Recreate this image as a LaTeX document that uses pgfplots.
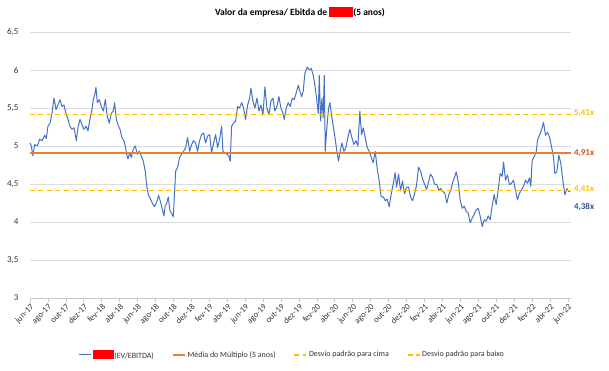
\documentclass[border=0pt]{standalone}
\usepackage{pgfplots}
\pgfplotsset{compat=1.18}
\usepackage{fontspec}
\setmainfont{Carlito}
\definecolor{xblue}{HTML}{4472C4}
\definecolor{xorange}{HTML}{ED7D31}
\definecolor{xgold}{HTML}{FFC000}
\definecolor{xdorange}{HTML}{C55A11}
\definecolor{xnavy}{HTML}{2F5597}
\begin{document}
\begin{tikzpicture}[x=1pt,y=1pt]
\useasboundingbox (0,0) rectangle (609,370);
\node[font=\fontsize{9.5}{10}\selectfont\bfseries, anchor=center] at (300,358) {Valor da empresa/ Ebitda de \textcolor{red}{\rule[-1.5pt]{24pt}{10pt}}(5 anos)};
\begin{axis}[
  at={(30pt,72pt)}, anchor=south west, scale only axis,
  width=540.5pt, height=266pt,
  xmin=0, xmax=60.3, ymin=3, ymax=6.5,
  clip=false,
  axis x line*=bottom, axis y line*=left,
  y axis line style={draw=none},
  x axis line style={draw=black!22, line width=0.8pt},
  ytick={3,3.5,4,4.5,5,5.5,6,6.5},
  ytick style={draw=none},
  ymajorgrids, major grid style={draw=black!14, line width=0.8pt},
  xtick={0,2,...,60},
  xticklabels={jun-17,ago-17,out-17,dez-17,fev-18,abr-18,jun-18,ago-18,out-18,dez-18,fev-19,abr-19,jun-19,ago-19,out-19,dez-19,fev-20,abr-20,jun-20,ago-20,out-20,dez-20,fev-21,abr-21,jun-21,ago-21,out-21,dez-21,fev-22,abr-22,jun-22},
  tick align=outside, major tick length=4pt,
  xtick style={draw=black!22, line width=0.6pt},
  xticklabel style={rotate=45, anchor=north east, inner sep=1pt, font=\fontsize{8.5}{9}\selectfont, text=black!80},
  yticklabel style={font=\fontsize{9}{9}\selectfont, text=black!80, xshift=-4pt},
  /pgf/number format/.cd, use comma, assume math mode=true, /pgfplots/.cd,
  legend columns=4,
  legend style={at={(0.485,-0.214)}, anchor=center, draw=none, fill=none, font=\fontsize{8}{9}\selectfont, text=black!80,
    /tikz/every even column/.append style={column sep=16pt}},
  legend image code/.code={\draw[#1] (0pt,0pt) -- (12pt,0pt);},
]
\addplot[xblue, line width=1.0pt, line join=round] coordinates {
(0,5.04) (0.15,5.0) (0.33,4.87) (0.52,5.02) (0.82,5.0) (1.08,5.09) (1.34,5.07) (1.64,5.14) (1.82,5.10) (2.0,5.26)
(2.23,5.30) (2.45,5.43) (2.68,5.63) (2.9,5.48) (3.12,5.54) (3.35,5.61) (3.57,5.52) (3.79,5.54) (4.01,5.43) (4.24,5.35)
(4.46,5.26) (4.68,5.22) (4.91,5.24) (5.17,5.07) (5.35,5.24) (5.58,5.35) (5.8,5.28) (6.02,5.22) (6.25,5.26) (6.47,5.2)
(6.69,5.35) (6.91,5.48) (7.06,5.61) (7.21,5.67) (7.36,5.77) (7.51,5.57) (7.73,5.61) (7.96,5.52) (8.18,5.46) (8.4,5.61)
(8.62,5.39) (8.85,5.30) (9.07,5.43) (9.29,5.46) (9.44,5.57) (9.63,5.35) (9.81,5.28) (10.04,5.22) (10.26,5.11) (10.48,5.07)
(10.63,5.0) (10.78,4.89) (10.93,4.83) (11.12,4.91) (11.3,4.85) (11.52,4.96) (11.75,5.0) (11.97,4.89) (12.19,4.93) (12.42,4.87)
(12.64,4.80) (12.86,4.67) (13.01,4.48) (13.23,4.35) (13.46,4.30) (13.68,4.24) (13.9,4.20) (14.13,4.26) (14.35,4.35) (14.57,4.26)
(14.8,4.15) (14.94,4.08) (15.09,4.22) (15.24,4.24) (15.43,4.33) (15.61,4.15) (15.8,4.11) (15.99,4.07) (16.1,4.33) (16.25,4.67)
(16.47,4.72) (16.69,4.85) (16.91,4.89) (17.14,4.93) (17.36,4.98) (17.58,5.11) (17.81,4.93) (18.03,5.02) (18.25,5.07) (18.48,5.04)
(18.7,4.93) (18.92,5.07) (19.14,5.15) (19.37,5.17) (19.59,5.04) (19.81,5.13) (20.04,5.15) (20.26,4.91) (20.48,5.04) (20.71,5.15)
(20.93,4.98) (21.15,5.09) (21.38,5.26) (21.52,4.93) (21.75,4.91) (21.97,4.89) (22.19,4.87) (22.34,4.80) (22.49,5.26) (22.71,5.30)
(22.94,5.33) (23.16,5.52) (23.38,5.5) (23.61,5.57) (23.83,5.5) (24.05,5.35) (24.28,5.54) (24.5,5.63) (24.65,5.76) (24.87,5.59)
(25.09,5.5) (25.32,5.63) (25.54,5.46) (25.76,5.54) (25.99,5.41) (26.21,5.78) (26.43,5.5) (26.65,5.41) (26.88,5.59) (27.1,5.63)
(27.32,5.46) (27.55,5.52) (27.77,5.65) (27.99,5.5) (28.22,5.43) (28.36,5.35) (28.59,5.5) (28.81,5.57) (29.03,5.52) (29.26,5.63)
(29.48,5.61) (29.7,5.7) (29.93,5.80) (30.11,5.72) (30.3,5.65) (30.48,5.72) (30.67,5.96) (30.93,6.04) (31.15,6.0) (31.38,6.02)
(31.6,5.93) (31.78,5.80) (31.97,5.63) (32.16,5.43) (32.27,5.93) (32.42,5.33) (32.57,5.63) (32.71,5.37) (32.83,5.93) (32.94,4.93)
(33.09,5.2) (33.31,5.5) (33.46,5.57) (33.68,5.37) (33.83,5.26) (33.98,5.15) (34.13,5.02) (34.28,4.89) (34.42,4.80) (34.57,4.91)
(34.8,5.04) (35.02,4.93) (35.24,4.98) (35.46,5.11) (35.69,5.22) (35.91,5.11) (36.13,5.02) (36.36,5.07) (36.58,5.0) (36.8,5.46)
(36.99,5.15) (37.17,5.24) (37.4,5.11) (37.62,4.98) (37.84,4.93) (38.07,4.85) (38.29,4.78) (38.51,4.93) (38.74,4.70) (38.96,4.54)
(39.18,4.33) (39.41,4.33) (39.63,4.28) (39.85,4.30) (40.07,4.20) (40.3,4.37) (40.52,4.5) (40.74,4.65) (40.89,4.46) (41.12,4.63)
(41.34,4.41) (41.56,4.54) (41.78,4.37) (42.01,4.46) (42.23,4.46) (42.45,4.33) (42.68,4.28) (42.9,4.37) (43.12,4.48) (43.35,4.72)
(43.57,4.67) (43.79,4.57) (44.01,4.5) (44.24,4.43) (44.46,4.52) (44.68,4.63) (44.91,4.59) (45.13,4.5) (45.39,4.49) (45.61,4.42)
(45.84,4.44) (46.06,4.40) (46.28,4.38) (46.5,4.25) (46.73,4.36) (46.95,4.42) (47.17,4.53) (47.4,4.60) (47.55,4.66) (47.77,4.53)
(47.99,4.29) (48.22,4.18) (48.44,4.21) (48.66,4.14) (48.88,4.12) (49.11,3.99) (49.33,4.05) (49.55,4.1) (49.78,4.16) (50.0,4.18)
(50.22,4.08) (50.45,3.94) (50.67,4.03) (50.89,4.01) (51.12,4.08) (51.34,4.03) (51.56,4.21) (51.78,4.36) (52.01,4.23) (52.23,4.42)
(52.45,4.64) (52.68,4.60) (52.83,4.79) (53.05,4.55) (53.27,4.62) (53.49,4.49) (53.72,4.51) (53.94,4.55) (54.16,4.42) (54.39,4.29)
(54.61,4.38) (54.83,4.42) (55.06,4.47) (55.28,4.55) (55.5,4.51) (55.72,4.58) (55.87,4.47) (56.02,4.81) (56.25,4.86) (56.47,4.92)
(56.62,5.08) (56.84,5.14) (57.06,5.21) (57.29,5.31) (57.51,5.14) (57.73,5.18) (57.96,5.12) (58.18,4.99) (58.4,4.86) (58.55,4.64)
(58.77,4.66) (59.0,4.88) (59.22,4.77) (59.44,4.55) (59.67,4.36) (59.89,4.44) (60.11,4.40) (60.26,4.40)
};
\addlegendentry{\textcolor{red}{\rule[-1pt]{21pt}{9pt}}(EV/EBITDA)}
\addplot[xorange, line width=1.6pt] coordinates {(0,4.91) (60.3,4.91)};
\addlegendentry{Média do Múltiplo (5 anos)}
\addplot[xgold, line width=1.3pt, dash pattern=on 5pt off 3.5pt] coordinates {(0,5.41) (60.3,5.41)};
\addlegendentry{Desvio padrão para cima}
\addplot[xgold, line width=1.3pt, dash pattern=on 5pt off 3.5pt] coordinates {(0,4.41) (60.3,4.41)};
\addlegendentry{Desvio padrão para baixo}
\node[anchor=west, text=xgold, font=\fontsize{9}{9}\selectfont\bfseries] at (axis cs:60.3,5.43) {5,41x};
\node[anchor=west, text=xdorange, font=\fontsize{9}{9}\selectfont\bfseries] at (axis cs:60.3,4.91) {4,91x};
\node[anchor=west, text=xgold, font=\fontsize{9}{9}\selectfont\bfseries] at (axis cs:60.3,4.43) {4,41x};
\node[anchor=west, text=xnavy, font=\fontsize{9}{9}\selectfont\bfseries] at (axis cs:60.3,4.2) {4,38x};
\end{axis}
\end{tikzpicture}
\end{document}
